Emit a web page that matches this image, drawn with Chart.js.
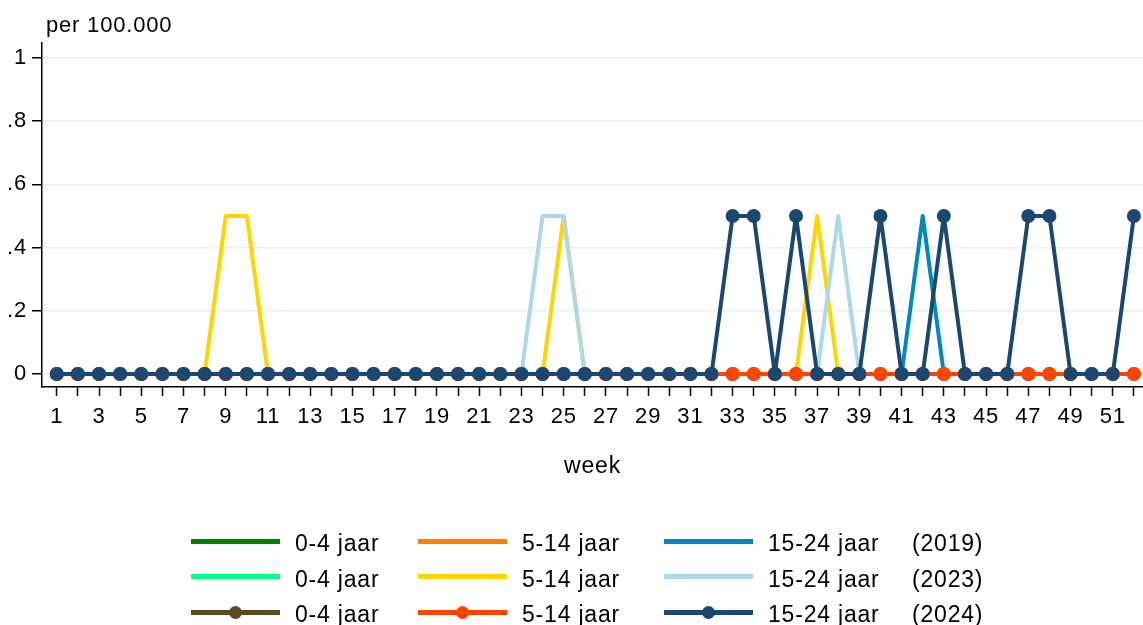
<!DOCTYPE html>
<html>
<head>
<meta charset="utf-8">
<script src="https://cdn.jsdelivr.net/npm/chart.js@4.4.1/dist/chart.umd.min.js"></script>
<style>
html, body { margin: 0; padding: 0; background: #fff; }
#wrap { position: relative; width: 1143px; height: 625px; overflow: hidden; }
#chart { position: absolute; left: 0; top: 0; }
.leg { position: absolute; font-family: "Liberation Sans", Arial, sans-serif; font-size: 23px; letter-spacing: 0.8px; color: #000; line-height: 1; white-space: nowrap; }
.sw { position: absolute; height: 5px; }
.dot { position: absolute; width: 13px; height: 13px; border-radius: 50%; }
</style>
</head>
<body>
<div id="wrap">
  <canvas id="chart" width="1143" height="625"></canvas>
  <div id="legend"></div>
</div>
<script>
// weeks on the x axis
const weeks = [1,2,3,4,5,6,7,8,9,10,11,12,13,
               14,15,16,17,18,19,20,21,22,23,24,25,26,
               27,28,29,30,31,32,33,34,35,36,37,38,39,
               40,41,42,43,44,45,46,47,48,49,50,51,52];

const yTickValues = [0, 0.2, 0.4, 0.6, 0.8, 1];
const yTickLabels = ['0', '.2', '.4', '.6', '.8', '1'];
const yTitle = 'per 100.000';
const xTitle = 'week';

const ageGroups = ['0-4 jaar', '5-14 jaar', '15-24 jaar'];
const years = ['2019', '2023', '2024'];

// incidence per 100.000, one list per age group and year
const age0_4_2019 = [0,0,0,0,0,0,0,0,0,0,0,0,0,
                     0,0,0,0,0,0,0,0,0,0,0,0,0,
                     0,0,0,0,0,0,0,0,0,0,0,0,0,
                     0,0,0,0,0,0,0,0,0,0,0,0,0];
const age5_14_2019 = [0,0,0,0,0,0,0,0,0,0,0,0,0,
                      0,0,0,0,0,0,0,0,0,0,0,0,0,
                      0,0,0,0,0,0,0,0,0,0,0,0,0,
                      0,0,0,0,0,0,0,0,0,0,0,0,0];
const age15_24_2019 = [0,0,0,0,0,0,0,0,0,0,0,0,0,
                       0,0,0,0,0,0,0,0,0,0,0,0,0,
                       0,0,0,0,0,0,0,0,0,0,0,0,0,
                       0,0,.5,0,0,0,0,0,0,0,0,0,0];
const age0_4_2023 = [0,0,0,0,0,0,0,0,0,0,0,0,0,
                     0,0,0,0,0,0,0,0,0,0,0,0,0,
                     0,0,0,0,0,0,0,0,0,0,0,0,0,
                     0,0,0,0,0,0,0,0,0,0,0,0,0];
const age5_14_2023 = [0,0,0,0,0,0,0,0,.5,.5,0,0,0,
                      0,0,0,0,0,0,0,0,0,0,0,.5,0,
                      0,0,0,0,0,0,0,0,0,0,.5,0,0,
                      0,0,0,0,0,0,0,0,0,0,0,0,0];
const age15_24_2023 = [0,0,0,0,0,0,0,0,0,0,0,0,0,
                       0,0,0,0,0,0,0,0,0,0,.5,.5,0,
                       0,0,0,0,0,0,0,0,0,0,0,.5,0,
                       0,0,0,0,0,0,0,0,0,0,0,0,0];
const age0_4_2024 = [0,0,0,0,0,0,0,0,0,0,0,0,0,
                     0,0,0,0,0,0,0,0,0,0,0,0,0,
                     0,0,0,0,0,0,0,0,0,0,0,0,0,
                     0,0,0,0,0,0,0,0,0,0,0,0,0];
const age5_14_2024 = [0,0,0,0,0,0,0,0,0,0,0,0,0,
                      0,0,0,0,0,0,0,0,0,0,0,0,0,
                      0,0,0,0,0,0,0,0,0,0,0,0,0,
                      0,0,0,0,0,0,0,0,0,0,0,0,0];
const age15_24_2024 = [0,0,0,0,0,0,0,0,0,0,0,0,0,
                       0,0,0,0,0,0,0,0,0,0,0,0,0,
                       0,0,0,0,0,0,.5,.5,0,.5,0,0,0,
                       .5,0,0,.5,0,0,0,.5,.5,0,0,0,.5];

// row = year, column = age group (same order as the legend)
const seriesData = [
  [age0_4_2019, age5_14_2019, age15_24_2019],
  [age0_4_2023, age5_14_2023, age15_24_2023],
  [age0_4_2024, age5_14_2024, age15_24_2024]
];
const seriesColors = [
  ['#008000', '#ff8000', '#0089bd'],
  ['#00ff80', '#ffd500', '#add8e6'],
  ['#5b4a1c', '#ff4500', '#1b4870']
];
const withDots = [false, false, true];

const fontFamily = '"Liberation Sans", Arial, sans-serif';

var datasets = [];
var n = 0;
for (var r = 0; r < years.length; r++) {
  for (var c = 0; c < ageGroups.length; c++) {
    datasets.push({
      label: ageGroups[c] + ' (' + years[r] + ')',
      data: seriesData[r][c].map(function(v, i){ return {x: weeks[i], y: v}; }),
      borderColor: seriesColors[r][c],
      backgroundColor: seriesColors[r][c],
      borderWidth: 4,
      borderJoinStyle: 'round',
      pointRadius: withDots[r] ? 7 : 0,
      pointBorderWidth: 0,
      pointBackgroundColor: seriesColors[r][c],
      tension: 0,
      fill: false,
      order: 8 - n   // last series on top, as in the original
    });
    n++;
  }
}

const spacing = {
  id: 'spacing',
  beforeUpdate(chart){ chart.ctx.letterSpacing = '0.8px'; },
  beforeDraw(chart){ chart.ctx.letterSpacing = '0.8px'; }
};

const yTitlePlugin = {
  id: 'yTitle',
  afterDraw(chart){
    const ctx = chart.ctx;
    ctx.save();
    ctx.font = '22px ' + fontFamily;
    ctx.letterSpacing = '0.8px';
    ctx.fillStyle = '#000';
    ctx.textAlign = 'left';
    ctx.textBaseline = 'alphabetic';
    ctx.fillText(yTitle, chart.chartArea.left + 4, 32);
    ctx.restore();
  }
};

var ctx = document.getElementById('chart').getContext('2d');
var myChart = new Chart(ctx, {
  type: 'line',
  data: { datasets: datasets },
  options: {
    responsive: false,
    animation: false,
    devicePixelRatio: 1,
    layout: { autoPadding: false, padding: { left: 0, right: 0, top: 43, bottom: 138 } },
    plugins: {
      legend: { display: false },
      tooltip: { enabled: false }
    },
    scales: {
      x: {
        type: 'linear',
        min: 0.3,
        max: 52.43,
        afterBuildTicks: function(s){ s.ticks = weeks.map(function(w){ return {value: w}; }); },
        afterFit: function(s){ s.height = 100; s.paddingRight = 0; },
        ticks: {
          autoSkip: false,
          maxRotation: 0,
          padding: 8,
          color: '#000',
          font: { family: fontFamily, size: 22 },
          callback: function(v){ return v % 2 === 1 ? String(v) : ''; }
        },
        grid: { drawOnChartArea: false, tickLength: 9, tickColor: '#000', tickWidth: 1.5 },
        border: { color: '#000', width: 1.5 },
        title: { display: true, text: xTitle, color: '#000', font: { family: fontFamily, size: 23 }, padding: { top: 0, bottom: 7 } }
      },
      y: {
        min: -0.041,
        max: 1.047,
        afterBuildTicks: function(s){ s.ticks = yTickValues.map(function(v){ return {value: v}; }); },
        afterFit: function(s){ s.width = 42; },
        ticks: {
          padding: 5,
          color: '#000',
          font: { family: fontFamily, size: 22 },
          callback: function(v, i){ return yTickLabels[i]; }
        },
        grid: { color: '#e9eff2', lineWidth: 1.5, tickLength: 10, tickColor: '#000', tickWidth: 1.5 },
        border: { color: '#000', width: 1.5 }
      }
    }
  },
  plugins: [spacing, yTitlePlugin]
});

// legend: 3 rows (years) x 3 columns (age groups) plus the year
var lineX = [191, 418, 664];
var textX = [295, 522, 768];
var yearX = 912;
var rowY = [541, 576.5, 612];
var html = '';
for (var r = 0; r < years.length; r++) {
  for (var c = 0; c < ageGroups.length; c++) {
    var col = seriesColors[r][c];
    html += '<div class="sw" style="left:' + lineX[c] + 'px;top:' + (rowY[r] - 2.5) + 'px;width:89px;background:' + col + '"></div>';
    if (withDots[r]) {
      html += '<div class="dot" style="left:' + (lineX[c] + 44.5 - 6.5) + 'px;top:' + (rowY[r] - 6.5) + 'px;background:' + col + '"></div>';
    }
    html += '<div class="leg" style="left:' + textX[c] + 'px;top:' + (rowY[r] - 9) + 'px">' + ageGroups[c] + '</div>';
  }
  html += '<div class="leg" style="left:' + yearX + 'px;top:' + (rowY[r] - 9) + 'px">(' + years[r] + ')</div>';
}
document.getElementById('legend').innerHTML = html;
</script>
</body>
</html>
